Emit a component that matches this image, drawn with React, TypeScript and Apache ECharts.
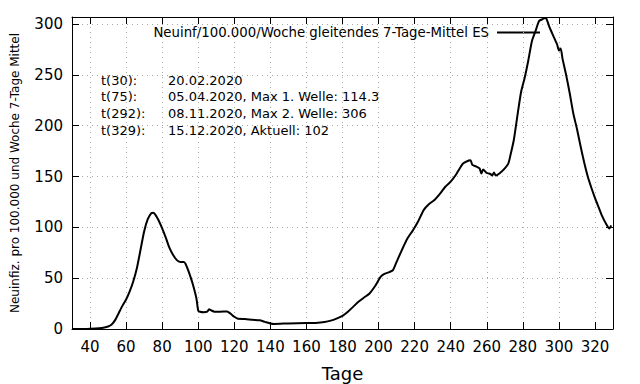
import React, { useEffect, useRef } from "react";
import * as echarts from "echarts";

const days = [
  30, 35, 40, 45, 48, 50, 52, 54, 56, 58, 60, 62, 64, 66, 68, 70, 72, 74, 75, 76, 78, 80, 82, 84, 86, 88, 90, 92, 93, 95, 97, 99, 100, 101, 103, 105, 106, 107, 109, 112, 116, 118, 120, 122, 126, 130, 134, 137, 140, 142, 150, 160, 165, 170, 174, 177, 180, 183, 186, 189, 192, 195, 198, 201, 203, 206, 208, 210, 213, 216, 219, 222, 225, 228, 231, 234, 237, 240, 243, 245, 247, 250, 251, 252, 254, 256, 257, 258, 260, 262, 263, 264, 265, 267, 270, 272, 273, 275, 277, 279, 281, 283, 285, 287, 289, 291, 292, 293, 295, 297, 299, 300, 301, 302, 304, 306, 308, 310, 312, 314, 316, 318, 320, 322, 324, 326, 328, 329,
];
const values = [
  0, 0, 0.3, 0.8, 1.5, 2.5, 4.5, 9, 16, 23, 29, 37, 47, 60, 78, 96, 108, 114, 114.3, 113, 107, 99, 90, 80, 73, 68, 66, 66, 64, 55, 44, 30, 18, 17, 16.5, 17, 19.5, 18.5, 17, 17, 17.3, 15, 12, 10, 9.8, 9, 8.5, 7, 5.5, 5, 5.5, 5.9, 6, 6.8, 8.5, 10.5, 13, 17, 22, 27, 31, 35, 42, 51, 54, 56, 58, 66, 78, 89, 97, 106, 117, 123, 127, 133, 140, 145, 152, 158, 163, 165.8, 166, 161.5, 160, 158, 153, 157, 153.5, 152.5, 151, 154, 151, 153, 158, 163, 170, 186, 210, 233, 247, 264, 283, 293, 303, 305, 306, 305.5, 296, 288, 280, 274, 276, 266, 250, 232, 212, 197, 180, 164, 150, 139, 129, 120, 111, 104, 99, 102,
];

const seriesName = "Neuinf/100.000/Woche gleitendes 7-Tage-Mittel ES";
const noteLabels = ["t(30):", "t(75):", "t(292):", "t(329):"];
const noteTexts = [
  "20.02.2020",
  "05.04.2020, Max 1. Welle: 114.3",
  "08.11.2020, Max 2. Welle: 306",
  "15.12.2020, Aktuell: 102",
];
const xMin = 30;
const xMax = 330;
const yMin = 0;
const yMax = 307;

const FONT = "DejaVu Sans";

export default function App() {
  const ref = useRef<HTMLDivElement>(null);
  useEffect(() => {
    if (!ref.current) return;
    const chart = echarts.init(ref.current, undefined, { renderer: "svg" });
    const gridLine = { show: true, lineStyle: { color: "#a8a8a8", type: [1, 4] as any, width: 1 } };
    const axisLine = { show: true, onZero: false, lineStyle: { color: "#000", width: 1 } };
    const tick = { show: true, inside: true, length: 7, lineStyle: { color: "#000", width: 1 } };
    const noteGraphics: any[] = [];
    noteLabels.forEach((l, i) => {
      const y = 80.5 + i * 16.9;
      noteGraphics.push({
        type: "text",
        left: 101,
        top: y - 7,
        style: { text: l, font: `13px '${FONT}'`, fill: "#000" },
      });
      noteGraphics.push({
        type: "text",
        left: 168,
        top: y - 7,
        style: { text: noteTexts[i], font: `13px '${FONT}'`, fill: "#000" },
      });
    });
    chart.setOption({
      animation: false,
      backgroundColor: "#fff",
      textStyle: { fontFamily: FONT },
      grid: { left: 72, right: 27, top: 17, bottom: 55, containLabel: false, outerBoundsMode: "none" },
      xAxis: [
        {
          type: "value",
          min: xMin,
          max: xMax,
          splitNumber: 15,
          position: "bottom",
          name: "Tage",
          nameLocation: "middle",
          nameGap: 35,
          nameTextStyle: { fontSize: 18, color: "#000", fontFamily: FONT },
          axisLine,
          axisTick: tick,
          axisLabel: {
            fontSize: 15,
            color: "#000",
            margin: 10,
            fontFamily: FONT,
            formatter: (v: number) => (v % 20 === 0 && v > xMin && v < xMax ? String(v) : ""),
          },
          splitLine: gridLine,
        },
        {
          type: "value",
          min: xMin,
          max: xMax,
          splitNumber: 15,
          position: "top",
          axisLine,
          axisTick: tick,
          axisLabel: { show: false },
          splitLine: { show: false },
        },
      ],
      yAxis: [
        {
          type: "value",
          min: yMin,
          max: yMax,
          splitNumber: 6,
          position: "left",
          name: "Neuinfiz. pro 100.000 und Woche 7-Tage Mittel",
          nameLocation: "middle",
          nameGap: 51,
          nameTextStyle: { fontSize: 12, color: "#000", fontFamily: FONT },
          axisLine,
          axisTick: tick,
          axisLabel: {
            fontSize: 15,
            color: "#000",
            margin: 9,
            fontFamily: FONT,
            formatter: (v: number) => (v % 50 === 0 ? String(v) : ""),
          },
          splitLine: gridLine,
        },
        {
          type: "value",
          min: yMin,
          max: yMax,
          splitNumber: 6,
          position: "right",
          axisLine,
          axisTick: tick,
          axisLabel: { show: false },
          splitLine: { show: false },
        },
      ],
      series: [
        {
          name: seriesName,
          type: "line",
          xAxisIndex: 0,
          yAxisIndex: 0,
          data: days.map((d, i) => [d, values[i]]),
          showSymbol: false,
          symbol: "none",
          smooth: 0.2,
          lineStyle: { color: "#000", width: 2 },
        },
      ],
      graphic: [
        {
          type: "text",
          right: 640 - 489,
          top: 25.5,
          style: { text: seriesName, font: `13.3px '${FONT}'`, fill: "#000" },
        },
        {
          type: "line",
          shape: { x1: 497, y1: 32.5, x2: 540, y2: 32.5 },
          style: { stroke: "#000", lineWidth: 2 },
        },
        ...noteGraphics,
      ],
    });
    return () => chart.dispose();
  }, []);
  return (
    <div
      ref={ref}
      style={{ position: "fixed", left: 0, top: 0, width: 640, height: 384, background: "#fff" }}
    />
  );
}
